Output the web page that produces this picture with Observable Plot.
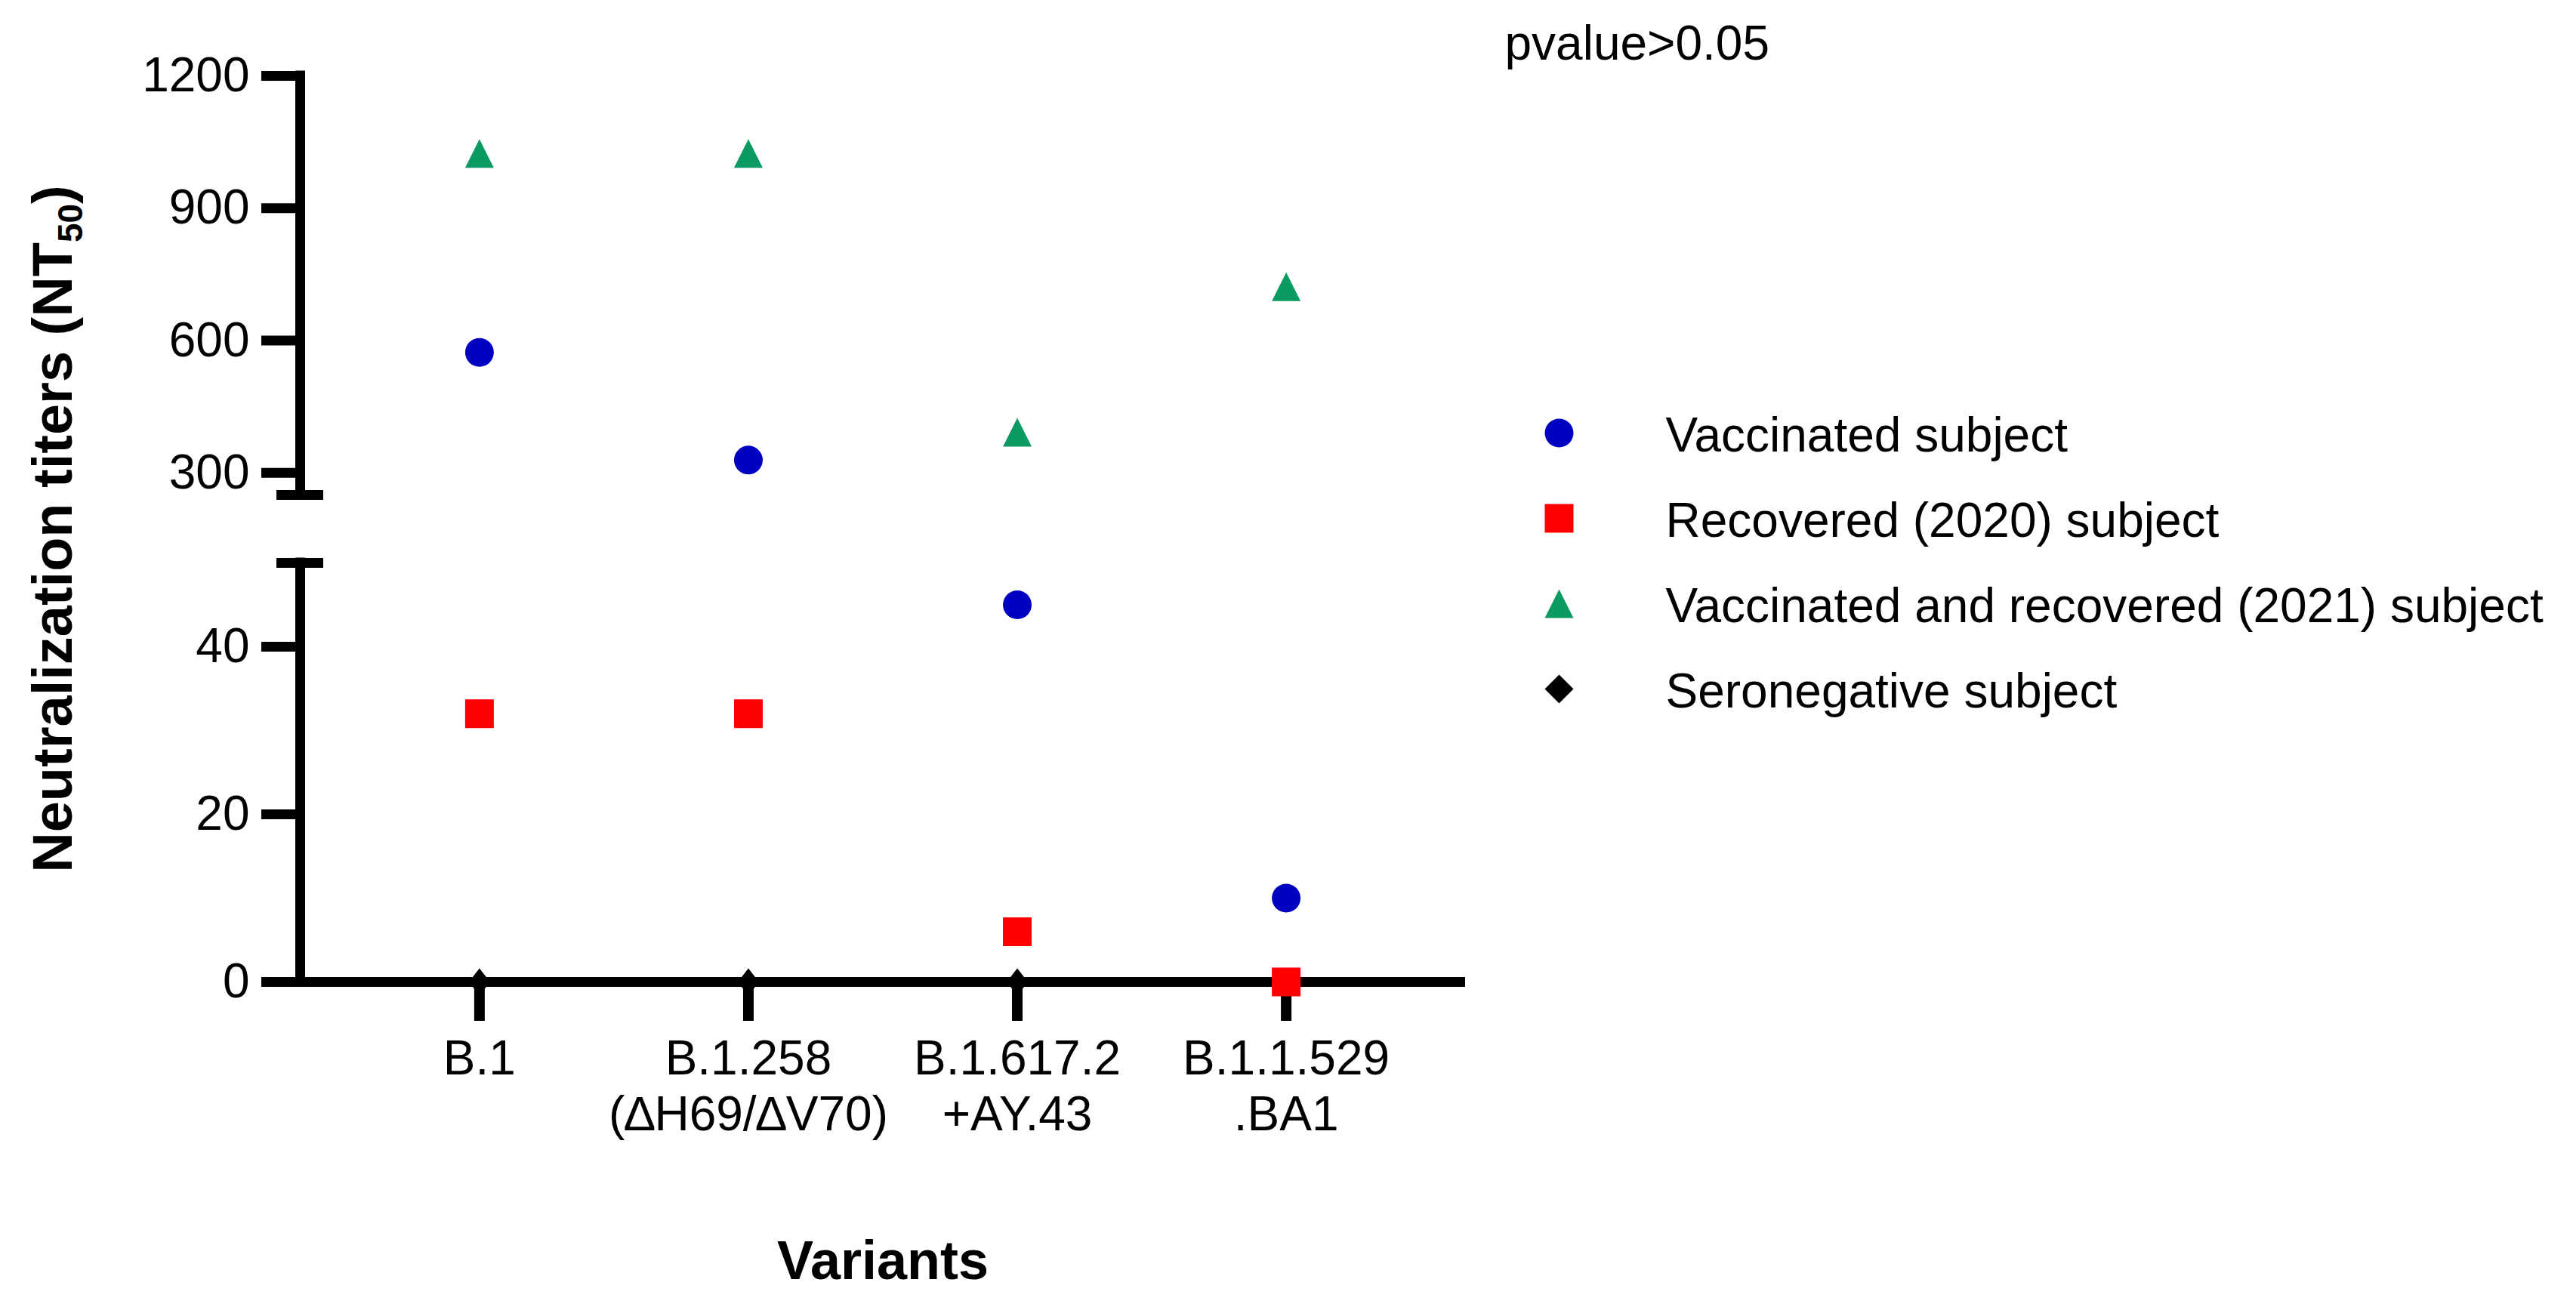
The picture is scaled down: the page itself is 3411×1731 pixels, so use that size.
<!DOCTYPE html>
<html>
<head>
<meta charset="utf-8">
<script src="https://cdn.jsdelivr.net/npm/d3@7"></script>
<script src="https://cdn.jsdelivr.net/npm/@observablehq/plot@0.6"></script>
<style>
  body { margin: 0; background: #fff; }
  #chart { position: relative; width: 3411px; height: 1731px; }
  #chart svg { position: absolute; overflow: visible; }
</style>
</head>
<body>
<div id="chart"></div>
<script>
// categories on the x axis (two-line tick labels)
const variants = ["B.1", "B.1.258\n(∆H69/∆V70)", "B.1.617.2\n+AY.43", "B.1.1.529\n.BA1"]

// series (NT50)
const series = [
  "Vaccinated subject",
  "Recovered (2020) subject",
  "Vaccinated and recovered (2021) subject",
  "Seronegative subject"
]
const vaccinated = [573, 329, 45, 10]
const recovered = [32, 32, 6, 0]
const vaccRecovered = [1024, 1024, 392, 722]
const seronegative = [0, 0, 0, 0]
const colors = ["#0000c0", "#ff0000", "#0a9a62", "#000000"]

// broken y axis: lower part 0-50, upper part 250-1200
const yTicks = [0, 20, 40, 300, 600, 900, 1200]
const ySegments = [[0, 50], [250, 1200]]
const yBreaks = [50, 250]

const yTitleMain = "Neutralization titers (NT"
const yTitleSub = "50"
const yTitleEnd = ")"
const xTitle = "Variants"
const note = "pvalue>0.05"

const font = "'Liberation Sans', Arial, sans-serif"

const rows = [vaccinated, recovered, vaccRecovered, seronegative].flatMap((vals, s) =>
  vals.map((v, i) => ({series: series[s], pos: i + 1, value: v}))
)

// symbols where r is the half extent
const half = s => Math.sqrt(s / Math.PI)
const squareSym = {draw(c, s) { const r = half(s); c.rect(-r, -r, 2 * r, 2 * r) }}
const triangleSym = {draw(c, s) {
  const r = half(s)
  c.moveTo(0, -r); c.lineTo(r, r); c.lineTo(-r, r); c.closePath()
}}
const diamondSym = {draw(c, s) {
  const r = half(s)
  c.moveTo(0, -r); c.lineTo(r, 0); c.lineTo(0, r); c.lineTo(-r, 0); c.closePath()
}}
// the diamonds sitting on the x axis are narrower
const tallDiamondSym = {draw(c, s) {
  const r = half(s), w = r * 0.78
  c.moveTo(0, -r); c.lineTo(w, 0); c.lineTo(0, r); c.lineTo(-w, 0); c.closePath()
}}
const symbolOf = {
  [series[0]]: d3.symbolCircle,
  [series[1]]: squareSym,
  [series[2]]: triangleSym,
  [series[3]]: diamondSym
}

const xDomain = [1 / 3, 14 / 3]

const chart = Plot.plot({
  width: 3411,
  height: 1731,
  marginTop: 100,
  marginBottom: 431,
  marginLeft: 397,
  marginRight: 1471,
  style: {fontFamily: font, background: "#fff", color: "#000"},
  x: {type: "linear", domain: xDomain},
  y: {type: "linear", domain: [0, 50, 250, 1200], range: [1300, 745, 655, 100]},
  color: {domain: series, range: colors},
  marks: [
    Plot.ruleX(ySegments, {x: () => xDomain[0], y1: d => d[0], y2: d => d[1], strokeWidth: 13, strokeLinecap: "square"}),
    Plot.ruleY(yBreaks, {x1: () => xDomain[0], x2: () => xDomain[0], insetLeft: -31, insetRight: -31, strokeWidth: 13}),
    Plot.ruleY([0], {insetLeft: -51, strokeWidth: 13}),
    Plot.axisY({
      ticks: yTicks, tickFormat: d => String(d), tickSize: 51, tickPadding: 16,
      strokeWidth: 13, fontSize: 64, label: null
    }),
    Plot.axisX({
      ticks: [1, 2, 3, 4], tickFormat: i => variants[i - 1], tickSize: 52, tickPadding: 18,
      strokeWidth: 14, fontSize: 64, lineHeight: 1.16, label: null
    }),
    Plot.dot(rows.filter(d => d.series === series[3]), {
      x: "pos", y: "value", fill: "series", symbol: () => tallDiamondSym, r: 18
    }),
    Plot.dot(rows.filter(d => d.series !== series[3]), {
      x: "pos", y: "value", fill: "series", symbol: d => symbolOf[d.series], r: 19
    }),
    Plot.text([yTitleMain + yTitleSub + yTitleEnd], {
      frameAnchor: "left", rotate: -90, dx: -355, lineAnchor: "top", textAnchor: "middle",
      fontSize: 74, fontWeight: "bold", text: d => d
    }),
    Plot.text([xTitle], {
      frameAnchor: "bottom", dy: 393, lineAnchor: "bottom",
      fontSize: 72, fontWeight: "bold", text: d => d
    }),
    Plot.text([note], {
      frameAnchor: "top-right", dx: 52, dy: -22, textAnchor: "start", lineAnchor: "bottom",
      fontSize: 64, text: d => d
    })
  ]
})

// subscript for NT50
d3.select(chart).selectAll("text")
  .filter(function () { return this.textContent === yTitleMain + yTitleSub + yTitleEnd })
  .each(function () {
    const t = d3.select(this).text(yTitleMain)
    t.append("tspan").attr("font-size", 46).attr("dy", 14).text(yTitleSub)
    t.append("tspan").attr("dy", -14).text(yTitleEnd)
  })

const legend = Plot.plot({
  width: 1411,
  height: 480,
  marginLeft: 64,
  marginTop: 0,
  marginBottom: 0,
  marginRight: 0,
  style: {fontFamily: font, background: "#fff", color: "#000"},
  y: {type: "point", domain: series, range: [72, 413], padding: 0, axis: null},
  color: {domain: series, range: colors},
  marks: [
    Plot.dot(series, {y: d => d, frameAnchor: "left", fill: d => d, symbol: d => symbolOf[d], r: 19}),
    Plot.text(series, {
      y: d => d, frameAnchor: "left", dx: 141, dy: 4, textAnchor: "start",
      fontSize: 64, text: d => d
    })
  ]
})

chart.style.left = "0px"
chart.style.top = "0px"
legend.style.left = "2000px"
legend.style.top = "500px"
d3.select("#chart").append(() => chart)
d3.select("#chart").append(() => legend)
</script>
</body>
</html>
